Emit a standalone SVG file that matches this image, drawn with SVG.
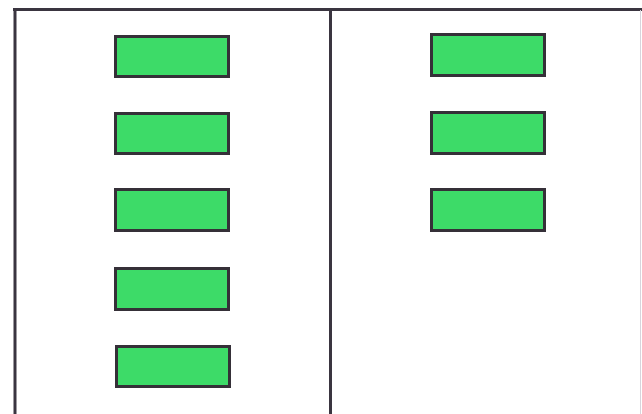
<svg xmlns="http://www.w3.org/2000/svg" width="642" height="414" viewBox="0 0 642 414">
<style>
.box{fill:#3ddb68;stroke:#353038;stroke-width:3}
.frame{stroke:#3a3540;stroke-width:3;fill:none}
</style>
<rect x="0" y="0" width="642" height="414" fill="#ffffff"/>
<g id="frame">
<line class="frame" x1="13" y1="9.5" x2="642" y2="9.5"/>
<line class="frame" x1="15" y1="8" x2="15" y2="414"/>
<line class="frame" x1="330.5" y1="8" x2="330.5" y2="414"/>
<line x1="640.5" y1="10" x2="640.5" y2="414" stroke="#d8d4dc" stroke-width="1"/>
</g>
<g id="connectors"></g>
<g id="L1"><rect class="box" x="115.5" y="36.5" width="113" height="40"/></g>
<g id="L2"><rect class="box" x="115.5" y="113.5" width="113" height="40"/></g>
<g id="L3"><rect class="box" x="115.5" y="189.5" width="113" height="41"/></g>
<g id="L4"><rect class="box" x="115.5" y="268.5" width="113" height="41"/></g>
<g id="L5"><rect class="box" x="116.5" y="346.5" width="113" height="40"/></g>
<g id="R1"><rect class="box" x="431.5" y="34.5" width="113" height="41"/></g>
<g id="R2"><rect class="box" x="431.5" y="112.5" width="113" height="41"/></g>
<g id="R3"><rect class="box" x="431.5" y="189.5" width="113" height="41"/></g>
</svg>
